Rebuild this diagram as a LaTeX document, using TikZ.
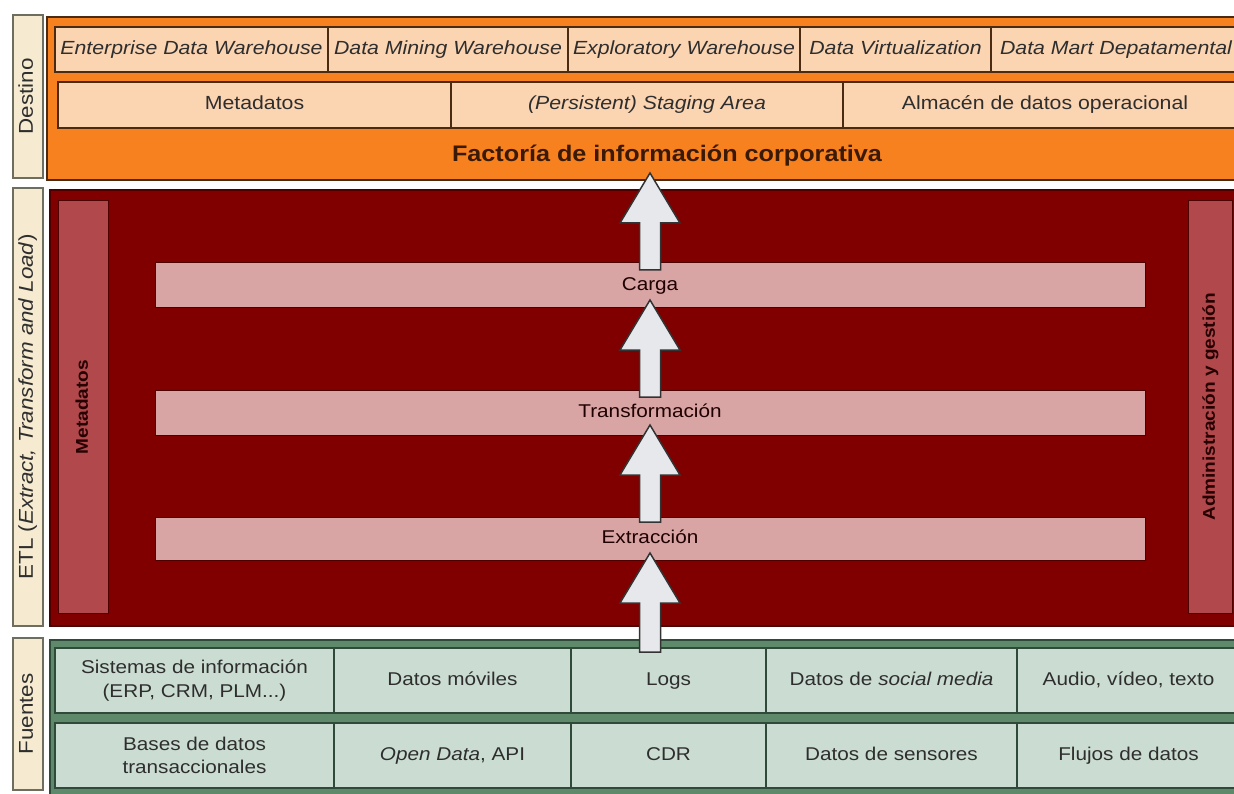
\documentclass[tikz,border=0pt]{standalone}
\usepackage{fontspec}
\setmainfont{Liberation Sans}[FakeStretch=1.12]
\usetikzlibrary{calc}

\definecolor{orangeband}{HTML}{F7801F}
\definecolor{peach}{HTML}{FBD4B2}
\definecolor{peachline}{HTML}{4A2A10}
\definecolor{etlred}{HTML}{800000}
\definecolor{etlline}{HTML}{4D0000}
\definecolor{sidebar}{HTML}{B0484C}
\definecolor{bandpink}{HTML}{D9A4A4}
\definecolor{arrowfill}{HTML}{E7E8EC}
\definecolor{srcgreen}{HTML}{5E8A6B}
\definecolor{srccell}{HTML}{CBDDD2}
\definecolor{srcline}{HTML}{2F4A38}
\definecolor{tagfill}{HTML}{F6EBD0}
\definecolor{tagline}{HTML}{6E6E60}
\definecolor{ink}{HTML}{2E2E2E}
\definecolor{factink}{HTML}{3A1A05}

% rectangle given by its top-left and bottom-right corners
\newcommand{\cellbox}[7]{%
  \node[#2, minimum width={#5-#3}, minimum height={#6-#4}] (#1) at (#3,#4) {#7};}

% white block arrow pointing up, from a shaft foot to a tip
\newcommand{\blockup}[2]{%
  \path[blockarrow] let \p1=#1, \p2=#2 in
    (\x1-10.5pt,\y1) -- (\x1-10.5pt,\y2-50pt) -- (\x1-30pt,\y2-50pt) --
    (\x1,\y2) -- (\x1+30pt,\y2-50pt) -- (\x1+10.5pt,\y2-50pt) --
    (\x1+10.5pt,\y1) -- cycle;}

\tikzset{
  box/.style={rectangle, inner sep=0pt, outer sep=0pt, anchor=north west,
    align=center, text=ink},
  oneline/.style={text height=13.5pt, text depth=4pt},
  panel/.style={box, line width=1.5pt},
  tgt/.style={box, oneline, draw=peachline, fill=peach, line width=1.3pt,
    font=\fontsize{19}{23}\selectfont\itshape},
  tgtb/.style={box, oneline, draw=peachline, fill=peach, line width=1.3pt,
    font=\fontsize{19}{23}\selectfont},
  srctwo/.style={box, draw=srcline, fill=srccell, line width=1.3pt,
    font=\fontsize{18.5}{23.5}\selectfont},
  src/.style={srctwo, oneline},
  bandbox/.style={box, oneline, fill=bandpink, draw=etlline, line width=1pt,
    text=black!80!red!60!black, font=\fontsize{18.5}{22}\selectfont},
  tag/.style={rectangle, rotate=90, minimum height=30pt, inner sep=0pt,
    draw=tagline, fill=tagfill, line width=1.5pt, oneline,
    font=\fontsize{20}{24}\selectfont, text=ink},
  vbar/.style={rectangle, rotate=90, inner sep=0pt, draw=etlline,
    fill=sidebar, line width=1pt, text=black!85!red, oneline,
    font=\fontsize{17}{20}\selectfont\bfseries},
  blockarrow/.style={draw=black!80, fill=arrowfill, line width=1.5pt,
    line join=miter},
}

\begin{document}
\begin{tikzpicture}[x=1pt,y=-1pt]
\useasboundingbox (0,0) rectangle (1234,794);
\fill[white] (0,0) rectangle (1234,794);
\clip (0,0) rectangle (1234,794);

% layer tags on the left
\node[tag, minimum width=163pt] (tagdest) at (28,96.5) {Destino};
\node[tag, minimum width=438pt] (tagetl) at (28,407)
  {ETL (\textit{Extract, Transform and Load})};
\node[tag, minimum width=152pt] (tagsrc) at (28,714) {Fuentes};

% ---- Destino ----
\cellbox{destino}{panel, fill=orangeband, draw=peachline}{47}{17}{1250}{180}{}
\cellbox{edw}{tgt}{55}{27}{328}{72}{Enterprise Data Warehouse}
\cellbox{dmw}{tgt}{328}{27}{568}{72}{Data Mining Warehouse}
\cellbox{exw}{tgt}{568}{27}{800}{72}{Exploratory Warehouse}
\cellbox{dvir}{tgt}{800}{27}{991}{72}{Data Virtualization}
\cellbox{dmart}{tgt}{991}{27}{1241}{72}{Data Mart Depatamental}
\cellbox{meta}{tgtb}{58}{82}{451}{128}{Metadatos}
\cellbox{stag}{tgtb}{451}{82}{843}{128}{\textit{(Persistent) Staging Area}}
\cellbox{ods}{tgtb}{843}{82}{1247}{128}{Almacén de datos operacional}
\node[anchor=base, text=factink, font=\fontsize{22.5}{26}\selectfont\bfseries]
  (fact) at (667,162) {Factoría de información corporativa};

% ---- ETL ----
\cellbox{etl}{panel, fill=etlred, draw=etlline}{50}{190}{1250}{626}{}
\node[vbar, minimum width=412pt, minimum height=50pt] (metabar) at (83,407)
  {Metadatos};
\node[vbar, minimum width=412pt, minimum height=44pt] (adminbar) at (1210,407)
  {Administración y gestión};
\cellbox{carga}{bandbox}{155}{263}{1145}{308}{Carga}
\cellbox{trans}{bandbox}{155}{390}{1145}{435}{Transformación}
\cellbox{extr}{bandbox}{155}{517}{1145}{560}{Extracción}

% ---- Fuentes ----
\cellbox{srcpanel}{panel, fill=srcgreen, draw=srcline}{50}{640}{1250}{800}{}
\cellbox{sis}{srctwo}{55}{648}{334}{713}{Sistemas de información\\(ERP, CRM, PLM...)}
\cellbox{mov}{src}{334}{648}{571}{713}{Datos móviles}
\cellbox{logs}{src}{571}{648}{766}{713}{Logs}
\cellbox{social}{src}{766}{648}{1017}{713}{Datos de \textit{social media}}
\cellbox{audio}{src}{1017}{648}{1240}{713}{Audio, vídeo, texto}
\cellbox{bases}{srctwo}{55}{723}{334}{788}{Bases de datos\\transaccionales}
\cellbox{open}{src}{334}{723}{571}{788}{\textit{Open Data}, API}
\cellbox{cdr}{src}{571}{723}{766}{788}{CDR}
\cellbox{sens}{src}{766}{723}{1017}{788}{Datos de sensores}
\cellbox{flujos}{src}{1017}{723}{1240}{788}{Flujos de datos}

% ---- flow arrows ----
\blockup{($(srcpanel.north)+(0,12)$)}{($(extr.south)+(0,-7)$)}
\blockup{($(extr.north)+(0,5)$)}{($(trans.south)+(0,-10)$)}
\blockup{($(trans.north)+(0,7)$)}{($(carga.south)+(0,-8)$)}
\blockup{($(carga.north)+(0,7)$)}{($(destino.south)+(0,-7)$)}
\end{tikzpicture}
\end{document}
